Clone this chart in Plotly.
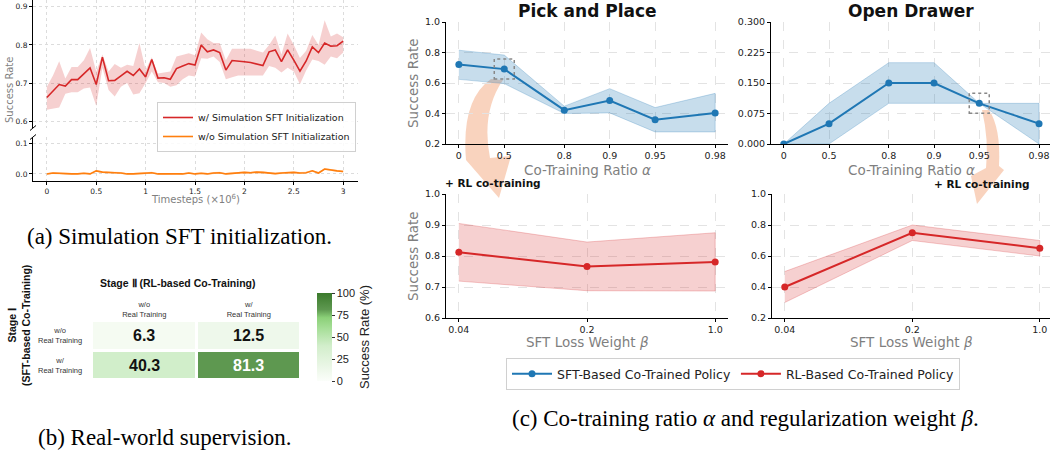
import numpy as np
import plotly.graph_objects as go

W, H = 1050, 450
def PX(x): return x / W
def PY(y): return 1 - y / H

# ---------------- (a) Simulation SFT initialization ----------------
timesteps = [0.0, 0.0625, 0.125, 0.1875, 0.25, 0.3125, 0.375, 0.4375, 0.5, 0.5625,
             0.625, 0.6875, 0.75, 0.8125, 0.875, 0.9375, 1.0, 1.0625, 1.125, 1.1875,
             1.25, 1.3125, 1.375, 1.4375, 1.5, 1.5625, 1.625, 1.6875, 1.75, 1.8125,
             1.875, 1.9375, 2.0, 2.0625, 2.125, 2.1875, 2.25, 2.3125, 2.375, 2.4375,
             2.5, 2.5625, 2.625, 2.6875, 2.75, 2.8125, 2.875, 2.9375, 3.0]
with_sft_mean = [0.662, 0.678, 0.696, 0.692, 0.709, 0.709, 0.724, 0.740, 0.696, 0.768,
                 0.706, 0.707, 0.719, 0.731, 0.720, 0.737, 0.716, 0.762, 0.713, 0.714,
                 0.710, 0.738, 0.745, 0.751, 0.747, 0.800, 0.782, 0.787, 0.780, 0.734,
                 0.759, 0.758, 0.756, 0.754, 0.750, 0.746, 0.782, 0.787, 0.756, 0.787,
                 0.760, 0.731, 0.758, 0.795, 0.780, 0.805, 0.797, 0.798, 0.810]
with_sft_lo = [0.630, 0.632, 0.636, 0.672, 0.676, 0.676, 0.686, 0.688, 0.640, 0.740,
               0.682, 0.665, 0.690, 0.700, 0.670, 0.673, 0.700, 0.730, 0.702, 0.700,
               0.690, 0.694, 0.710, 0.720, 0.717, 0.765, 0.764, 0.770, 0.755, 0.710,
               0.715, 0.720, 0.720, 0.720, 0.720, 0.720, 0.745, 0.740, 0.728, 0.740,
               0.730, 0.697, 0.733, 0.762, 0.758, 0.748, 0.770, 0.765, 0.780]
with_sft_hi = [0.690, 0.720, 0.757, 0.712, 0.742, 0.742, 0.760, 0.792, 0.730, 0.775,
               0.730, 0.750, 0.740, 0.748, 0.745, 0.805, 0.735, 0.768, 0.725, 0.728,
               0.730, 0.770, 0.775, 0.778, 0.773, 0.833, 0.815, 0.805, 0.805, 0.760,
               0.790, 0.790, 0.790, 0.790, 0.785, 0.780, 0.800, 0.825, 0.775, 0.830,
               0.800, 0.766, 0.785, 0.826, 0.800, 0.865, 0.822, 0.830, 0.820]
without_sft_mean = [0.000, 0.003, 0.002, 0.000, 0.000, 0.000, 0.002, 0.000, 0.010, 0.006,
                    0.004, 0.004, 0.003, 0.000, 0.000, 0.002, 0.002, 0.004, 0.000, 0.000,
                    0.000, 0.002, 0.000, 0.003, 0.000, 0.002, 0.000, 0.003, 0.004, 0.000,
                    0.002, 0.004, 0.005, 0.004, 0.006, 0.005, 0.003, 0.001, 0.003, 0.004,
                    0.005, 0.003, 0.004, 0.010, 0.003, 0.016, 0.012, 0.010, 0.008]
without_sft_band = 0.003
a_xticks = [0, 0.5, 1, 1.5, 2, 2.5, 3]
a_xticklabels = ["0", "0.5", "1", "1.5", "2", "2.5", "3"]

# ---------------- (b) Real-world supervision ----------------
stage2_cols = ["w/o<br>Real Training", "w/<br>Real Training"]
stage1_rows = ["w/o<br>Real Training", "w/<br>Real Training"]
real_success = [[6.3, 12.5], [40.3, 81.3]]

# ---------------- (c) Co-training ratio / weight ----------------
alpha_vals = [0, 0.5, 0.8, 0.9, 0.95, 0.98]
alpha_labels = ["0", "0.5", "0.8", "0.9", "0.95", "0.98"]
pick_sft_mean = [0.721, 0.691, 0.422, 0.485, 0.359, 0.404]
pick_sft_hi = [0.815, 0.783, 0.448, 0.563, 0.439, 0.532]
pick_sft_lo = [0.624, 0.596, 0.400, 0.404, 0.279, 0.279]
drawer_sft_mean = [0.0, 0.05, 0.15, 0.15, 0.10, 0.05]
drawer_sft_hi = [0.0, 0.10, 0.20, 0.20, 0.10, 0.10]
drawer_sft_lo = [0.0, 0.0, 0.10, 0.10, 0.10, 0.0]
beta_labels = ["0.04", "0.2", "1.0"]
pick_rl_mean = [0.812, 0.766, 0.781]
pick_rl_hi = [0.905, 0.845, 0.875]
pick_rl_lo = [0.719, 0.688, 0.687]
drawer_rl_mean = [0.40, 0.75, 0.65]
drawer_rl_hi = [0.50, 0.80, 0.70]
drawer_rl_lo = [0.30, 0.70, 0.60]

BLUE = "#1f77b4"
RED = "#d62728"
ORANGE = "#ff7f0e"
BLUE_F = "rgba(31,119,180,0.25)"
RED_F = "rgba(214,39,40,0.22)"
ORANGE_F = "rgba(255,127,14,0.3)"
DJ = "DejaVu Sans"
LS = "Liberation Sans"
SERIF = "Liberation Serif"
GREY = "#7f7f7f"

fig = go.Figure()

def band(x, lo, hi, color, xa, ya, edge=None):
    fig.add_trace(go.Scatter(x=list(x) + list(x)[::-1], y=list(hi) + list(lo)[::-1],
                             fill="toself", fillcolor=color, mode="lines",
                             line=dict(width=0.8 if edge else 0, color=edge or color),
                             hoverinfo="skip", showlegend=False, xaxis=xa, yaxis=ya))

# (a)
band(timesteps, with_sft_lo, with_sft_hi, RED_F, "x", "y")
fig.add_trace(go.Scatter(x=timesteps, y=with_sft_mean, mode="lines", line=dict(color=RED, width=1.6),
                         name="w/ Simulation SFT Initialization", legend="legend2", xaxis="x", yaxis="y"))
wo_lo = [v - without_sft_band for v in without_sft_mean]
wo_hi = [v + without_sft_band for v in without_sft_mean]
band(timesteps, wo_lo, wo_hi, ORANGE_F, "x2", "y2")
fig.add_trace(go.Scatter(x=timesteps, y=without_sft_mean, mode="lines", line=dict(color=ORANGE, width=1.6),
                         name="w/o Simulation SFT Initialization", legend="legend2", xaxis="x2", yaxis="y2"))

# (b) heatmap
greens = [[0.0, "#fbfefa"], [0.1, "#f1f9ee"], [0.4, "#d2eecb"], [0.6, "#a6de97"],
          [0.72, "#8bd078"], [0.813, "#5e9850"], [1.0, "#3b7a2c"]]
fig.add_trace(go.Heatmap(z=real_success, x=stage2_cols, y=stage1_rows, zmin=0, zmax=100,
                         colorscale=greens, xgap=3, ygap=3, showscale=True, hoverinfo="skip",
                         xaxis="x3", yaxis="y3",
                         colorbar=dict(x=PX(307), xanchor="left", y=PY(337), yanchor="middle",
                                       len=108 / H, lenmode="fraction", thickness=15,
                                       outlinewidth=0, tickvals=[0, 25, 50, 75, 100],
                                       ticks="outside", ticklen=3, tickcolor="#333",
                                       tickfont=dict(family=LS, size=11, color="#222"),
                                       title=dict(text="Success Rate (%)", side="right",
                                                  font=dict(family=LS, size=13, color="#222")))))

# (c)
ax = np.array([-np.log(1 - a) for a in alpha_vals])
band(ax, pick_sft_lo, pick_sft_hi, BLUE_F, "x4", "y4", edge="rgba(31,119,180,0.3)")
fig.add_trace(go.Scatter(x=ax, y=pick_sft_mean, mode="lines+markers", line=dict(color=BLUE, width=2),
                         marker=dict(size=7, color=BLUE), name="SFT-Based Co-Trained Policy",
                         legend="legend", xaxis="x4", yaxis="y4"))
band(ax, drawer_sft_lo, drawer_sft_hi, BLUE_F, "x5", "y5", edge="rgba(31,119,180,0.3)")
fig.add_trace(go.Scatter(x=ax, y=drawer_sft_mean, mode="lines+markers", line=dict(color=BLUE, width=2),
                         marker=dict(size=7, color=BLUE), showlegend=False, xaxis="x5", yaxis="y5"))
band(beta_labels, pick_rl_lo, pick_rl_hi, RED_F, "x6", "y6", edge="rgba(214,39,40,0.3)")
fig.add_trace(go.Scatter(x=beta_labels, y=pick_rl_mean, mode="lines+markers", line=dict(color=RED, width=2),
                         marker=dict(size=7, color=RED), name="RL-Based Co-Trained Policy",
                         legend="legend", xaxis="x6", yaxis="y6"))
band(beta_labels, drawer_rl_lo, drawer_rl_hi, RED_F, "x7", "y7", edge="rgba(214,39,40,0.3)")
fig.add_trace(go.Scatter(x=beta_labels, y=drawer_rl_mean, mode="lines+markers", line=dict(color=RED, width=2),
                         marker=dict(size=7, color=RED), showlegend=False, xaxis="x7", yaxis="y7"))

tickf_a = dict(family=DJ, size=7.5, color="#222")
tickf_c = dict(family=DJ, size=9.5, color="#222")

def base_axis(**kw):
    d = dict(showline=True, linecolor="black", linewidth=1.1, ticks="outside", ticklen=3,
             tickcolor="black", showgrid=True, zeroline=False, mirror=False, automargin=False)
    d.update(kw)
    return d

layout = dict(
    width=W, height=H, margin=dict(l=0, r=0, t=0, b=0, autoexpand=False),
    paper_bgcolor="white", plot_bgcolor="white",
    # (a) upper
    xaxis=base_axis(domain=[PX(33), PX(358)], range=[-0.14, 3.15], anchor="y", showline=False,
                    ticks="", showticklabels=False, tickvals=a_xticks,
                    gridcolor="#dcdcdc", griddash="dot"),
    yaxis=base_axis(domain=[PY(128), PY(0)], range=[0.582, 0.918], anchor="x",
                    tickvals=[0.6, 0.7, 0.8, 0.9], ticktext=["0.6", "0.7", "0.8", "0.9"],
                    tickfont=tickf_a, gridcolor="#dcdcdc", griddash="dot"),
    # (a) lower
    xaxis2=base_axis(domain=[PX(33), PX(358)], range=[-0.14, 3.15], anchor="y2",
                     tickvals=a_xticks, ticktext=a_xticklabels, tickfont=tickf_a,
                     gridcolor="#dcdcdc", griddash="dot"),
    yaxis2=base_axis(domain=[PY(181), PY(137)], range=[-0.023, 0.12], anchor="x2",
                     tickvals=[0.0, 0.1], ticktext=["0.0", "0.1"], tickfont=tickf_a,
                     gridcolor="#dcdcdc", griddash="dot"),
    # (b) heatmap
    xaxis3=dict(domain=[PX(92), PX(301)], anchor="y3", side="top", showline=False, ticks="",
                showgrid=False, zeroline=False, automargin=False,
                tickfont=dict(family=LS, size=7.5, color="#333"), ticklabelstandoff=2),
    yaxis3=dict(domain=[PY(380), PY(321)], anchor="x3", autorange="reversed", showline=False,
                ticks="", showgrid=False, zeroline=False, showticklabels=False, automargin=False),
    # (c) TL
    xaxis4=base_axis(domain=[PX(446), PX(728)], range=[-0.196, 4.108], anchor="y4",
                     tickvals=list(ax), ticktext=alpha_labels, tickfont=tickf_c,
                     gridcolor="#e3e3e3", griddash="dash"),
    yaxis4=base_axis(domain=[PY(144), PY(22)], range=[0.2, 1.0], anchor="x4",
                     tickvals=[0.2, 0.4, 0.6, 0.8, 1.0], ticktext=["0.2", "0.4", "0.6", "0.8", "1.0"],
                     tickfont=tickf_c, gridcolor="#e3e3e3", griddash="dash"),
    # (c) TR
    xaxis5=base_axis(domain=[PX(771), PX(1050)], range=[-0.196, 4.08], anchor="y5",
                     tickvals=list(ax), ticktext=alpha_labels, tickfont=tickf_c,
                     gridcolor="#e3e3e3", griddash="dash"),
    yaxis5=base_axis(domain=[PY(144), PY(22)], range=[0.0, 0.3], anchor="x5",
                     tickvals=[0, 0.075, 0.15, 0.225, 0.3],
                     ticktext=["0.000", "0.075", "0.150", "0.225", "0.300"],
                     tickfont=tickf_c, gridcolor="#e3e3e3", griddash="dash"),
    # (c) BL
    xaxis6=base_axis(domain=[PX(446), PX(728)], range=[-0.1, 2.1], anchor="y6", type="category",
                     tickfont=tickf_c, gridcolor="#e3e3e3", griddash="dash"),
    yaxis6=base_axis(domain=[PY(318), PY(194)], range=[0.6, 1.0], anchor="x6",
                     tickvals=[0.6, 0.7, 0.8, 0.9, 1.0], ticktext=["0.6", "0.7", "0.8", "0.9", "1.0"],
                     tickfont=tickf_c, gridcolor="#e3e3e3", griddash="dash"),
    # (c) BR
    xaxis7=base_axis(domain=[PX(772), PX(1050)], range=[-0.1, 2.08], anchor="y7", type="category",
                     tickfont=tickf_c, gridcolor="#e3e3e3", griddash="dash"),
    yaxis7=base_axis(domain=[PY(318), PY(194)], range=[0.2, 1.0], anchor="x7",
                     tickvals=[0.2, 0.4, 0.6, 0.8, 1.0], ticktext=["0.2", "0.4", "0.6", "0.8", "1.0"],
                     tickfont=tickf_c, gridcolor="#e3e3e3", griddash="dash"),
    legend=dict(orientation="h", x=PX(733), xanchor="center", y=PY(374), yanchor="middle",
                bordercolor="#d0d0d0", borderwidth=1, bgcolor="white",
                font=dict(family=DJ, size=12.5, color="#222"), itemwidth=40),
    legend2=dict(x=PX(157), xanchor="left", y=PY(102), yanchor="top",
                 bordercolor="#d0d0d0", borderwidth=1, bgcolor="rgba(255,255,255,0.85)",
                 font=dict(family=DJ, size=9.5, color="#222"), tracegroupgap=0, itemwidth=30),
)
fig.update_layout(**layout)

ann = []
def text(x, y, t, size, family=DJ, color="#222", bold=False, angle=0, xanchor="center", **kw):
    ann.append(dict(x=PX(x), y=PY(y), xref="paper", yref="paper", text=f"<b>{t}</b>" if bold else t,
                    showarrow=False, textangle=angle, xanchor=xanchor, yanchor="middle",
                    font=dict(family=family, size=size, color=color), **kw))

# (a) texts
text(10, 90, "Success Rate", 10, color=GREY, angle=-90)
text(195, 199, "Timesteps (×10<sup>6</sup>)", 10, color=GREY)
text(179, 237, "(a) Simulation SFT initialization.", 23, family=SERIF, color="black")

# (b) texts
text(178, 283, "Stage Ⅱ (RL-based Co-Training)", 10.5, family=LS, bold=True, color="#111")
text(19, 326, "Stage Ⅰ<br>(SFT-based Co-Training)", 10.5, family=LS, bold=True, angle=-90, color="#111")
for r, row in enumerate(stage1_rows):
    ann.append(dict(x=PX(60), y=row, xref="paper", yref="y3", text=row, showarrow=False,
                    xanchor="center", yanchor="middle", align="center",
                    font=dict(family=LS, size=7.5, color="#333")))
    for c, col in enumerate(stage2_cols):
        v = real_success[r][c]
        ann.append(dict(x=col, y=row, xref="x3", yref="y3", text=f"<b>{v:.1f}</b>", showarrow=False,
                        font=dict(family=LS, size=16, color="white" if v > 60 else "#111")))
text(165, 437, "(b) Real-world supervision.", 23, family=SERIF, color="black")

# (c) texts
text(587, 11, "Pick and Place", 17, bold=True, color="#111")
text(911, 11, "Open Drawer", 17, bold=True, color="#111")
text(587, 170, "Co-Training Ratio <i>α</i>", 13.5, color=GREY)
text(911, 170, "Co-Training Ratio <i>α</i>", 13.5, color=GREY)
text(587, 342, "SFT Loss Weight <i>β</i>", 13.5, color=GREY)
text(911, 342, "SFT Loss Weight <i>β</i>", 13.5, color=GREY)
text(413, 83, "Success Rate", 13.5, color=GREY, angle=-90)
text(413, 256, "Success Rate", 13.5, color=GREY, angle=-90)
text(745, 418, "(c) Co-training ratio <i>α</i> and regularization weight <i>β</i>.", 23,
     family=SERIF, color="black")

shapes = []
def pathpx(cmds):
    out = []
    for c in cmds:
        if isinstance(c, str):
            out.append(c)
        else:
            out.append(f"{PX(c[0]):.5f},{PY(c[1]):.5f}")
    return " ".join(out)

ARROW = "rgba(240,150,100,0.42)"
arrow1 = ["M", (491, 79), "Q", (461, 100), (466, 160), "L", (499, 198), "L", (511, 156),
          "L", (490, 158), "Q", (481, 112), (503, 80), "Z"]
arrow2 = ["M", (982, 110), "Q", (989, 140), (986, 168), "L", (971, 176), "L", (977, 204),
          "L", (1004, 170), "L", (999, 166), "Q", (1001, 128), (989, 110), "Z"]
for a in (arrow1, arrow2):
    shapes.append(dict(type="path", xref="paper", yref="paper", path=pathpx(a),
                       fillcolor=ARROW, line=dict(width=0), layer="below"))

hl = [("x4", "y4", ax[1], pick_sft_mean[1]), ("x5", "y5", ax[4], drawer_sft_mean[4])]
for xa, ya, xv, yv in hl:
    shapes.append(dict(type="rect", xref=xa, yref=ya, xsizemode="pixel", ysizemode="pixel",
                       xanchor=xv, yanchor=yv, x0=-10, x1=10, y0=-10, y1=10,
                       line=dict(color="#888", width=1.5, dash="dot")))

for yy in (128, 137):
    shapes.append(dict(type="line", xref="paper", yref="paper", x0=PX(30), y0=PY(yy + 2.5),
                       x1=PX(36), y1=PY(yy - 2.5), line=dict(color="black", width=1)))

text(493, 183, "+ RL co-training", 10.5, bold=True, color="#111")
text(982, 184, "+ RL co-training", 10.5, bold=True, color="#111")

fig.update_layout(annotations=ann, shapes=shapes)
fig.write_html("out.html", config={"displayModeBar": False},
               post_script="document.body.style.margin='0';document.body.style.padding='0';"
                           "document.documentElement.style.overflow='hidden';")
